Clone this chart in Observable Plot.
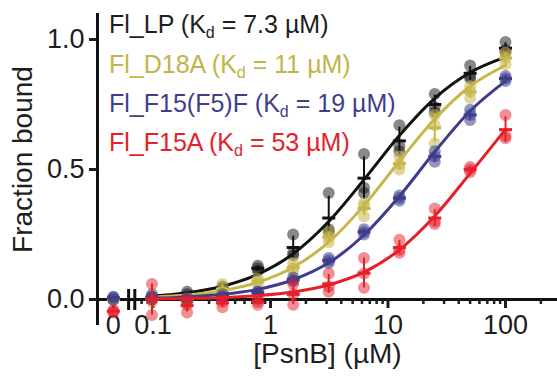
<!DOCTYPE html>
<html><head><meta charset="utf-8">
<script src="https://cdn.jsdelivr.net/npm/d3@7"></script>
<script src="https://cdn.jsdelivr.net/npm/@observablehq/plot@0.6"></script>
<style>body{margin:0;background:#fff;} svg{display:block;}</style>
</head><body><div id="chart"></div>
<script>
// Concentrations of PsnB (µM); 0 is drawn on the broken segment of the log axis
const conc = [0, 0.098, 0.195, 0.39, 0.78, 1.56, 3.13, 6.25, 12.5, 25, 50, 100];
const zeroAt = 0.046;           // log-scale position standing in for 0
const breakAt = [0.062, 0.07];  // axis break marks
const xMajorTicks = [0.1, 1, 10, 100];
const xMajorLabels = ["0.1", "1", "10", "100"];
const xZeroTick = [zeroAt];
const xZeroLabel = "0";
const xMinorTicks = [0.08, 0.09, 0.2, 0.3, 0.4, 0.5, 0.6, 0.7, 0.8, 0.9, 2, 3, 4, 5, 6, 7, 8, 9, 20, 30, 40, 50, 60, 70, 80, 90, 200];
const yTicks = [0, 0.5, 1.0];

const seriesNames = ["Fl_LP", "Fl_D18A", "Fl_F15(F5)F", "Fl_F15A"];
const kdValues = ["7.3", "11", "19", "53"];

// replicate measurements (3 per concentration)
const lpReps = [[0,0,0],[0.01,0,0.01],[0.03,0.02,0.01],[0.05,0.04,0.03],[0.13,0.11,0.12],[0.25,0.18,0.17],[0.41,0.27,0.26],[0.56,0.43,0.41],[0.67,0.59,0.57],[0.79,0.74,0.72],[0.90,0.86,0.85],[0.99,0.96,0.95]];
const d18aReps = [[0,0,0],[0,0.01,-0.01],[-0.015,0,-0.01],[0.06,0.03,0.03],[0.08,0.07,0.06],[0.14,0.12,0.11],[0.26,0.24,0.22],[0.37,0.36,0.32],[0.55,0.52,0.50],[0.71,0.67,0.60],[0.82,0.80,0.775],[0.95,0.93,0.905]];
const f15f5fReps = [[0.01,0,0.01],[0.02,0.01,0],[0.01,0,0],[0.02,0.01,0.01],[0.03,0.02,0.03],[0.085,0.075,0.07],[0.16,0.15,0.14],[0.27,0.26,0.25],[0.40,0.39,0.38],[0.57,0.55,0.53],[0.73,0.71,0.69],[0.86,0.85,0.84]];
const f15aReps = [[-0.04,-0.05,-0.045],[0.06,0,-0.06],[-0.05,-0.02,0],[-0.03,0,-0.01],[0,-0.01,-0.02],[0.06,0.02,-0.02],[0.10,0.05,0.03],[0.16,0.10,0.045],[0.23,0.19,0.18],[0.35,0.30,0.29],[0.51,0.50,0.49],[0.71,0.63,0.62]];

// fitted binding curves read at conc[1..]
const lpFit = [0.013,0.026,0.051,0.097,0.176,0.300,0.461,0.631,0.774,0.873,0.932];
const d18aFit = [0.009,0.017,0.034,0.066,0.124,0.221,0.362,0.532,0.694,0.820,0.901];
const f15f5fFit = [0.005,0.010,0.020,0.039,0.076,0.141,0.248,0.397,0.568,0.725,0.840];
const f15aFit = [0.002,0.004,0.007,0.015,0.029,0.056,0.105,0.191,0.321,0.485,0.654];

const colors = ["#111111", "#c5b74a", "#3d3d8c", "#e5202a"];
const textColors = ["#1e1e1e", "#c2b448", "#3f3f8a", "#e3222b"];
const dotOpacity = [0.5, 0.55, 0.55, 0.5];

const repsBySeries = [lpReps, d18aReps, f15f5fReps, f15aReps];
const fitsBySeries = [lpFit, d18aFit, f15f5fFit, f15aFit];
const xPos = c => c === 0 ? zeroAt : c;

const hbar = {draw(ctx, size) { const r = Math.sqrt(size / Math.PI); ctx.moveTo(-r, 0); ctx.lineTo(r, 0); }};
const vbar = {draw(ctx, size) { const r = Math.sqrt(size / Math.PI); ctx.moveTo(0, -r); ctx.lineTo(0, r); }};

const seriesMarks = seriesNames.flatMap((s, i) => {
  const pts = repsBySeries[i].flatMap((r, j) => r.map(v => ({x: xPos(conc[j]), y: v})));
  const means = repsBySeries[i].map((r, j) => ({x: xPos(conc[j]), mean: d3.mean(r), sd: d3.deviation(r)}));
  const fit = fitsBySeries[i].map((v, j) => ({x: conc[j + 1], y: v}));
  return [
    Plot.dot(pts, {x: "x", y: "y", r: 6, fill: colors[i], fillOpacity: dotOpacity[i]}),
    Plot.line(fit, {x: "x", y: "y", stroke: colors[i], strokeWidth: 3, curve: "monotone-x"}),
    Plot.ruleX(means, {x: "x", y1: d => d.mean - d.sd, y2: d => d.mean + d.sd, stroke: colors[i], strokeWidth: 2}),
    Plot.dot(means, {x: "x", y: "mean", symbol: hbar, r: 6.5, stroke: colors[i], strokeWidth: 3, fill: "none"})
  ];
});

const font = "'Liberation Sans', Arial, Helvetica, sans-serif";
const chart = Plot.plot({
  width: 557, height: 376,
  marginLeft: 97, marginRight: 0, marginTop: 13, marginBottom: 51,
  style: {fontFamily: font, color: "#1e1e1e", background: "#fff", overflow: "visible"},
  x: {type: "log", domain: [0.0337, 277]},
  y: {domain: [-0.1, 1.1]},
  marks: [
    Plot.ruleX([0.0337], {strokeWidth: 3, stroke: "#111"}),
    Plot.ruleY([0], {strokeWidth: 3, stroke: "#111"}),
    Plot.dot(breakAt, {x: d => d, y: () => 0, symbol: vbar, r: 10.5, stroke: "#111", strokeWidth: 3}),
    Plot.axisY(yTicks, {tickSize: 8, strokeWidth: 3, tickPadding: 5, fontSize: 27, tickFormat: d3.format(".1f"), label: null}),
    Plot.axisX(xMajorTicks, {anchor: "bottom", dy: -26, tickSize: 9, strokeWidth: 3, tickPadding: 6, fontSize: 27, tickFormat: d => xMajorLabels[xMajorTicks.indexOf(d)], label: null}),
    Plot.axisX(xZeroTick, {anchor: "bottom", dy: -26, tickSize: 9, strokeWidth: 3, text: null, label: null}),
    Plot.text(xZeroTick, {x: d => d, y: () => 0, text: () => xZeroLabel, lineAnchor: "top", dy: 15, fontSize: 27, fill: "#1e1e1e"}),
    Plot.axisX(xMinorTicks, {anchor: "bottom", dy: -26, tickSize: 5, strokeWidth: 2.5, text: null, label: null}),
    Plot.text(["Fraction bound"], {frameAnchor: "left", textAnchor: "middle", lineAnchor: "middle", rotate: -90, dx: -74, dy: -10, fontSize: 28, fill: "#1e1e1e"}),
    Plot.text(["[PsnB] (µM)"], {frameAnchor: "bottom", textAnchor: "middle", lineAnchor: "bottom", dy: 37, fontSize: 28, fill: "#1e1e1e"}),
    ...seriesMarks
  ]
});
document.getElementById("chart").appendChild(chart);

// legend inside plot area (with subscript d)
const svg = d3.select(chart);
const legendY = [33, 73, 112, 151];
seriesNames.forEach((s, i) => {
  const t = svg.append("text").attr("x", 109).attr("y", legendY[i]).attr("text-anchor", "start")
    .attr("fill", textColors[i]).attr("font-size", 25).attr("font-family", font);
  t.append("tspan").text(`${s} (K`);
  t.append("tspan").attr("font-size", 16).attr("dy", 5).text("d");
  t.append("tspan").attr("dy", -5).text(` = ${kdValues[i]} µM)`);
});
</script>
</body></html>
